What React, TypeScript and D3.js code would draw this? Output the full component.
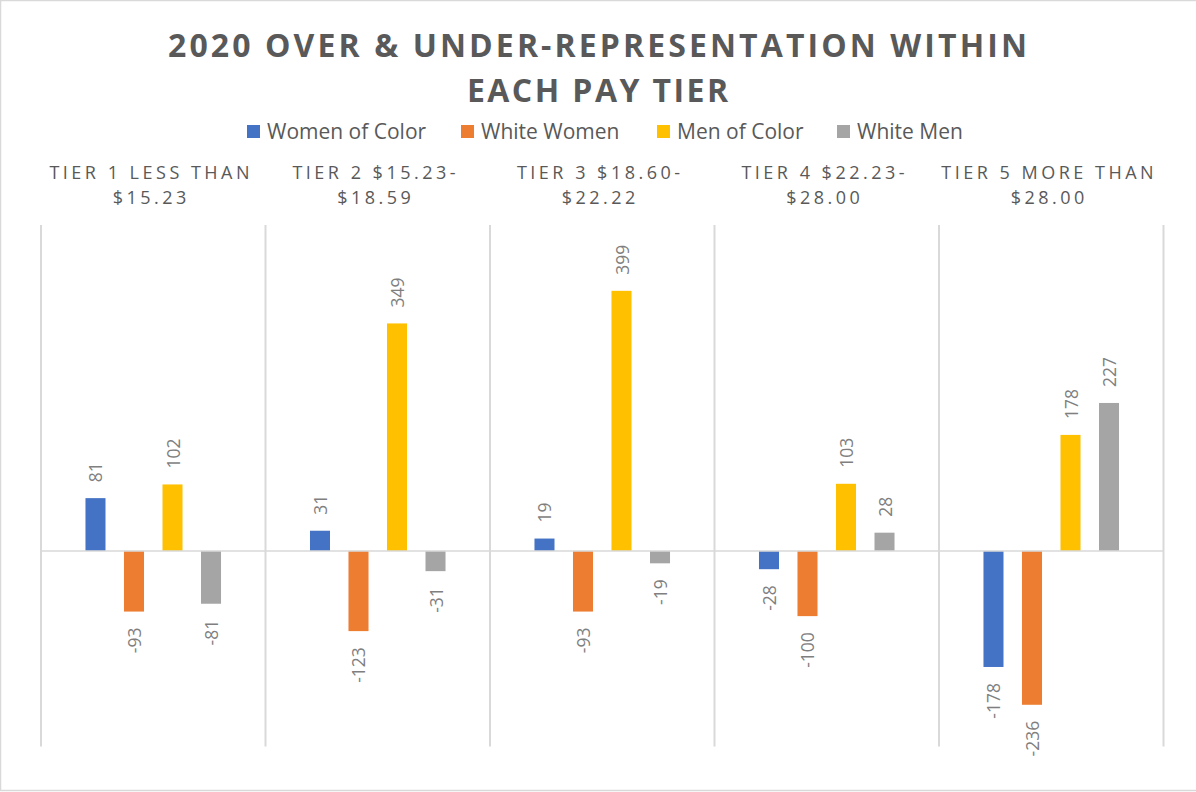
import React from "react";
import * as d3 from "d3";

const tiers = ["Tier 1", "Tier 2", "Tier 3", "Tier 4", "Tier 5"];
const tierLines = [
  ["TIER 1 LESS THAN", "$15.23"],
  ["TIER 2 $15.23-", "$18.59"],
  ["TIER 3 $18.60-", "$22.22"],
  ["TIER 4 $22.23-", "$28.00"],
  ["TIER 5 MORE THAN", "$28.00"],
];
const seriesNames = ["Women of Color", "White Women", "Men of Color", "White Men"];
const seriesColors = ["#4472C4", "#ED7D31", "#FFC000", "#A5A5A5"];

const womenOfColor = [81, 31, 19, -28, -178];
const whiteWomen = [-93, -123, -93, -100, -236];
const menOfColor = [102, 349, 399, 103, 178];
const whiteMen = [-81, -31, -19, 28, 227];
const seriesValues = [womenOfColor, whiteWomen, menOfColor, whiteMen];

const W = 1196;
const H = 792;
const font = "'Open Sans', 'Noto Sans', sans-serif";
const textColor = "#595959";
const labelColor = "#7f7f7f";
const gridColor = "#d9d9d9";

const legendX = [247, 461, 657, 837];

const App = () => {
  const x = d3.scaleBand<string>().domain(tiers).range([41, 1163.5]).padding(0);
  const xi = d3
    .scaleBand<string>()
    .domain(seriesNames)
    .range([0, x.bandwidth()])
    .paddingInner(0.48)
    .paddingOuter(1.155);
  const y = d3.scaleLinear().domain([-300, 500]).range([746.5, 225]);
  const gap = 16;

  return (
    <div>
      <style>{`body{margin:0}`}</style>
      <svg width={W} height={H} style={{ display: "block", background: "#fff" }}>
        <rect x={0.5} y={0.5} width={W + 2} height={790} fill="#fff" stroke={gridColor} strokeWidth={1.5} />

        {/* title */}
        <text x={597.5} y={57} textAnchor="middle" fontFamily={font} fontWeight={700} fontSize={32}
          fill={textColor} textLength={859} lengthAdjust="spacing">
          2020 OVER &amp; UNDER-REPRESENTATION WITHIN
        </text>
        <text x={597.5} y={102} textAnchor="middle" fontFamily={font} fontWeight={700} fontSize={32}
          fill={textColor} textLength={261} lengthAdjust="spacing">
          EACH PAY TIER
        </text>

        {/* legend */}
        {seriesNames.map((s, i) => (
          <g key={s}>
            <rect x={legendX[i]} y={125} width={13} height={13} fill={seriesColors[i]} />
            <text x={legendX[i] + 20} y={139} fontFamily={font} fontSize={21} fill={textColor}>
              {s}
            </text>
          </g>
        ))}

        {/* panel labels */}
        {tiers.map((t, i) => (
          <g key={t}>
            {tierLines[i].map((line, j) => (
              <text key={j} x={x(t)! + x.bandwidth() / 2 - 2} y={178.5 + j * 25} textAnchor="middle"
                fontFamily={font} fontSize={18} letterSpacing={3.5} fill={textColor}>
                {line}
              </text>
            ))}
          </g>
        ))}

        {/* panel dividers */}
        {[...tiers.map((t) => x(t)!), x.range()[1]].map((px, i) => (
          <line key={i} x1={px} x2={px} y1={y(500)} y2={y(-300)} stroke={gridColor} strokeWidth={2} />
        ))}

        {/* bars */}
        {tiers.map((t, ti) => (
          <g key={t} transform={`translate(${x(t)},0)`}>
            {seriesNames.map((s, si) => {
              const v = seriesValues[si][ti];
              const bx = xi(s)!;
              const top = y(Math.max(0, v));
              const bottom = y(Math.min(0, v));
              return (
                <rect key={s} x={bx} y={top} width={xi.bandwidth()} height={bottom - top} fill={seriesColors[si]} />
              );
            })}
          </g>
        ))}

        {/* zero line */}
        <line x1={x.range()[0]} x2={x.range()[1]} y1={y(0)} y2={y(0)} stroke={gridColor} strokeWidth={1.5} />

        {/* data labels */}
        {tiers.map((t, ti) => (
          <g key={t} transform={`translate(${x(t)},0)`}>
            {seriesNames.map((s, si) => {
              const v = seriesValues[si][ti];
              const cx = xi(s)! + xi.bandwidth() / 2;
              const ly = v >= 0 ? y(v) - gap : y(v) + gap;
              return (
                <text key={s} transform={`translate(${cx},${ly}) rotate(-90)`}
                  textAnchor={v >= 0 ? "start" : "end"} dominantBaseline="central"
                  fontFamily={font} fontSize={17.5} fill={labelColor}>
                  {v}
                </text>
              );
            })}
          </g>
        ))}
      </svg>
    </div>
  );
};

export default App;
